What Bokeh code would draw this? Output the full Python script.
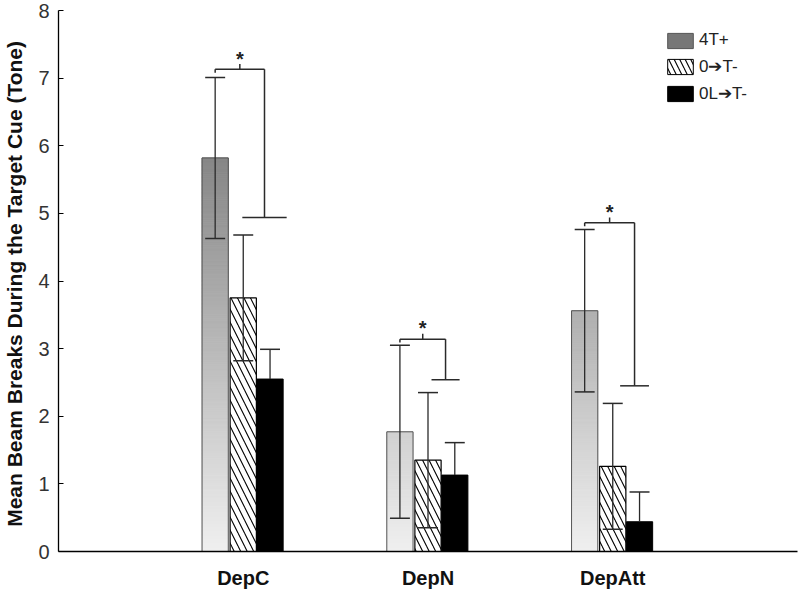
import numpy as np
from bokeh.plotting import figure
from bokeh.models import Range1d, FixedTicker, Legend, LegendItem, ColumnDataSource
from bokeh.embed import file_html
from bokeh.resources import INLINE
from bokeh.core.properties import value

# ---------------- data ----------------
groups = ["DepC", "DepN", "DepAtt"]
series = ["4T+", "0\u2794T-", "0L\u2794T-"]
mean_4T = [5.82, 1.77, 3.56]
err_4T = [1.19, 1.28, 1.20]
mean_0T = [3.75, 1.35, 1.26]
err_0T = [0.93, 1.00, 0.93]
mean_0LT = [2.55, 1.13, 0.44]
err_0LT = [0.44, 0.48, 0.44]
sig_top = [7.13, 3.14, 4.86]     # height of significance bracket
sig_low = [4.94, 2.54, 2.45]     # lower end of right bracket leg
y_ticks = [0, 1, 2, 3, 4, 5, 6, 7, 8]
y_label = "Mean Beam Breaks  During the Target Cue (Tone)"

# ---------------- layout helpers ----------------
gx = np.array([1.0, 2.0, 3.0])
offs = [-0.152, 0.0, 0.145]
bw = 0.142
cap = 0.054
right_off = [0.115, 0.095, 0.118]
cap_half = [0.12, 0.076, 0.078]

FONT = "Liberation Sans"
ERR = "#2a2a2a"

p = figure(width=800, height=591, output_backend="svg", toolbar_location=None,
           x_range=Range1d(0, 4.0), y_range=Range1d(0, 8),
           min_border_left=58, min_border_right=3, min_border_top=10, min_border_bottom=39)
p.background_fill_color = "white"
p.border_fill_color = "white"
p.outline_line_color = None
p.xgrid.visible = False
p.ygrid.visible = False

# gradient-filled gray bars (color depends on absolute y)
def gray_at(y):
    v = int(round(240 - 145 * y / 8.0))
    return "#%02x%02x%02x" % (v, v, v)

sl_l, sl_r, sl_b, sl_t, sl_c = [], [], [], [], []
step = 0.02
for xc, m in zip(gx + offs[0], mean_4T):
    ys = np.arange(0, m, step)
    for y0 in ys:
        y1 = min(y0 + step, m)
        sl_l.append(xc - bw / 2); sl_r.append(xc + bw / 2)
        sl_b.append(y0); sl_t.append(y1)
        sl_c.append(gray_at((y0 + y1) / 2))
p.quad(left=sl_l, right=sl_r, bottom=sl_b, top=sl_t, fill_color=sl_c, line_color=sl_c, line_width=1)
p.vbar(x=gx + offs[0], top=mean_4T, width=bw, fill_color=None, line_color="#555555", line_width=1)

# hatched bars
p.vbar(x=gx + offs[1], top=mean_0T, width=bw, fill_color="white", line_color="black", line_width=1.2,
       hatch_pattern="\\", hatch_color="black", hatch_weight=1.1, hatch_scale=13)
# black bars
p.vbar(x=gx + offs[2], top=mean_0LT, width=bw, fill_color="black", line_color="black", line_width=1)

# error bars (the lower half of the black bars' bars is hidden inside the bar)
for k, (means, errs) in enumerate([(mean_4T, err_4T), (mean_0T, err_0T), (mean_0LT, err_0LT)]):
    xs = gx + offs[k]
    hi = [m + e for m, e in zip(means, errs)]
    if k < 2:
        lo = [m - e for m, e in zip(means, errs)]
        p.segment(x0=xs, y0=lo, x1=xs, y1=hi, line_color=ERR, line_width=1.3)
        p.segment(x0=xs - cap, y0=lo, x1=xs + cap, y1=lo, line_color=ERR, line_width=1.5)
    else:
        p.segment(x0=xs, y0=means, x1=xs, y1=hi, line_color=ERR, line_width=1.3)
    p.segment(x0=xs - cap, y0=hi, x1=xs + cap, y1=hi, line_color=ERR, line_width=1.5)

# significance brackets
bx0, by0, bx1, by1 = [], [], [], []
star_x, star_y = [], []
for i in range(3):
    lx = gx[i] + offs[0]
    rx = gx[i] + right_off[i]
    t = sig_top[i]
    mid = (lx + rx) / 2
    segs = [(lx, t, rx, t), (lx, t, lx, t - 0.05), (rx, t, rx, sig_low[i]),
            (rx - cap_half[i], sig_low[i], rx + cap_half[i], sig_low[i]), (mid, t, mid, t + 0.08)]
    for a, b, c, d in segs:
        bx0.append(a); by0.append(b); bx1.append(c); by1.append(d)
    star_x.append(mid); star_y.append(t + 0.16)
p.segment(x0=bx0, y0=by0, x1=bx1, y1=by1, line_color=ERR, line_width=1.5)
p.text(x=star_x, y=star_y, text=["*"] * 3, text_font=value(FONT), text_font_size="20px",
       text_font_style="bold", text_align="center", text_baseline="middle", text_color="#222222")

# legend (dummy renderers placed outside the visible range)
dummy = dict(left=[-10], right=[-9], bottom=[-10], top=[-9])
r1 = p.quad(source=ColumnDataSource(dummy), left="left", right="right", bottom="bottom", top="top",
            fill_color="#777777", line_color="#555555")
r2 = p.quad(source=ColumnDataSource(dummy), left="left", right="right", bottom="bottom", top="top",
            fill_color="white", line_color="black", hatch_pattern="\\", hatch_color="black",
            hatch_weight=1.1, hatch_scale=11)
r3 = p.quad(source=ColumnDataSource(dummy), left="left", right="right", bottom="bottom", top="top",
            fill_color="black", line_color="black")
legend = Legend(items=[LegendItem(label=series[0], renderers=[r1]),
                       LegendItem(label=series[1], renderers=[r2]),
                       LegendItem(label=series[2], renderers=[r3])],
                location=(606, 447), margin=0, padding=0, spacing=6,
                glyph_width=32, glyph_height=19, label_height=19, label_standoff=3,
                label_text_font=FONT, label_text_font_size="17px", label_text_color="#222222",
                border_line_color=None, background_fill_alpha=0)
p.add_layout(legend)

# axes
p.yaxis.ticker = FixedTicker(ticks=y_ticks)
p.yaxis.major_tick_in = 5
p.yaxis.major_tick_out = 0
p.yaxis.minor_tick_line_color = None
p.yaxis.axis_line_color = "black"
p.yaxis.axis_line_width = 1.3
p.yaxis.major_tick_line_color = "black"
p.yaxis.major_label_text_font = FONT
p.yaxis.major_label_text_font_size = "20px"
p.yaxis.major_label_text_color = "#333333"
p.yaxis.major_label_standoff = 9
p.yaxis.axis_label = y_label
p.yaxis.axis_label_text_font = FONT
p.yaxis.axis_label_text_font_size = "21px"
p.yaxis.axis_label_text_font_style = "bold"
p.yaxis.axis_label_text_color = "#111111"
p.yaxis.axis_label_standoff = 9

p.xaxis.ticker = FixedTicker(ticks=list(gx))
p.xaxis.major_label_overrides = {float(x): g for x, g in zip(gx, groups)}
p.xaxis.major_label_overrides.update({int(x): g for x, g in zip(gx, groups)})
p.xaxis.major_tick_line_color = None
p.xaxis.minor_tick_line_color = None
p.xaxis.axis_line_color = "black"
p.xaxis.axis_line_width = 1.3
p.xaxis.major_label_text_font = FONT
p.xaxis.major_label_text_font_size = "20px"
p.xaxis.major_label_text_font_style = "bold"
p.xaxis.major_label_text_color = "#111111"
p.xaxis.major_label_standoff = 9

open("out.html", "w").write(file_html(p, INLINE))
